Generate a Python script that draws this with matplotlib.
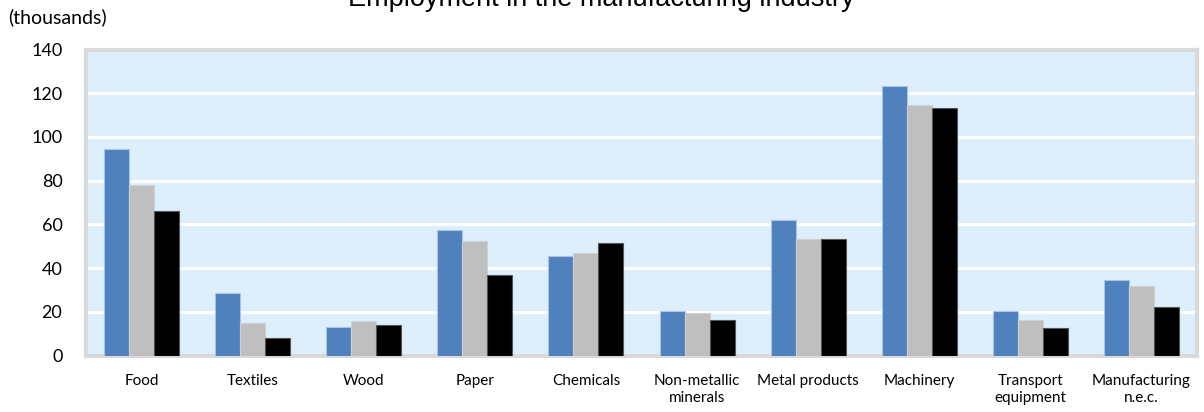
import numpy as np
import matplotlib
matplotlib.use("Agg")
import matplotlib.pyplot as plt

categories = ["Food", "Textiles", "Wood", "Paper", "Chemicals",
              "Non-metallic\nminerals", "Metal products", "Machinery",
              "Transport\nequipment", "Manufacturing\nn.e.c."]
series_a = [94.4, 28.8, 13.2, 57.5, 45.5, 20.5, 62.0, 123.4, 20.5, 34.5]
series_b = [78.2, 15.0, 16.0, 52.5, 47.0, 19.6, 53.5, 114.8, 16.4, 32.0]
series_c = [66.3, 7.8, 14.0, 37.0, 51.5, 16.4, 53.5, 113.1, 12.8, 22.4]
y_ticks = [0, 20, 40, 60, 80, 100, 120, 140]

colors = ["#4f81bd", "#bfbfbf", "#000000"]
edges = ["#a9c4e6", "#d0d0d0", "#555555"]

fig = plt.figure(figsize=(12.04, 4.12), dpi=100)
ax = fig.add_axes([86 / 1204, 1 - 355.5 / 412, 1111 / 1204, 306 / 412])

x = np.arange(len(categories))
w = 0.225
for i, (vals, c, ec) in enumerate(zip([series_a, series_b, series_c], colors, edges)):
    ax.bar(x + (i - 1) * w, vals, width=w, color=c, edgecolor=ec,
           linewidth=0.8, zorder=3)

ax.set_xlim(-0.5, len(categories) - 0.5)
ax.set_ylim(0, 140)
ax.set_facecolor("#ddeffd")
ax.set_yticks(y_ticks)
ax.set_yticklabels([str(t) for t in y_ticks], fontsize=13, family="Lato")
ax.yaxis.grid(True, color="white", linewidth=2.2, zorder=1)
ax.set_axisbelow(True)
ax.set_xticks(x)
ax.set_xticklabels(categories, fontsize=11, family="Lato", linespacing=1.3,
                   va="top")
ax.tick_params(axis="both", length=0)
ax.tick_params(axis="x", pad=13)
ax.tick_params(axis="y", pad=17)
for sp in ax.spines.values():
    sp.set_color("#d9d9d9")
    sp.set_linewidth(3)

fig.text(601 / 1204, 1 - 6 / 412, "Employment in the manufacturing industry",
         ha="center", va="baseline", fontsize=19.5, family="Liberation Sans")
fig.text(8 / 1204, 1 - 23 / 412, "(thousands)", ha="left", va="baseline",
         fontsize=14, family="Lato")

fig.savefig("out.png", dpi=100)
